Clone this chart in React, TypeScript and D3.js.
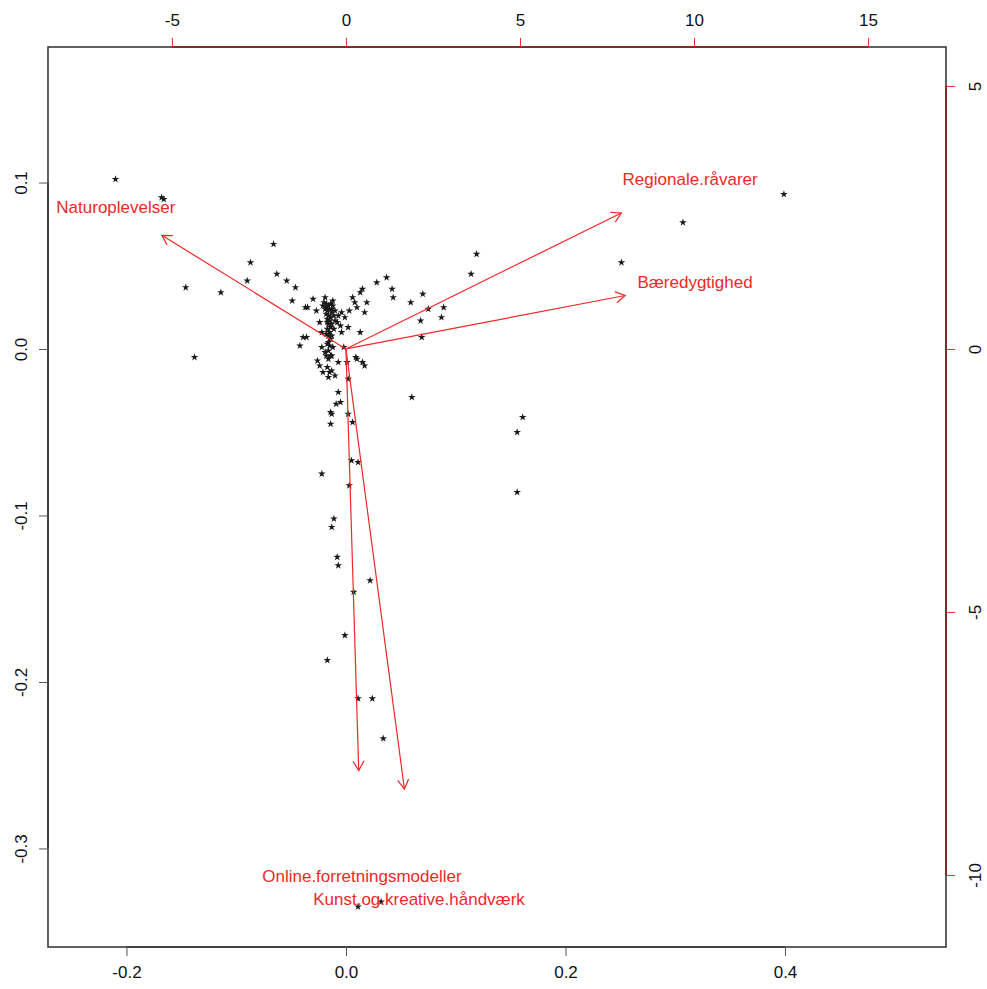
import { useEffect, useRef } from 'react';
import * as d3 from 'd3';

const W = 987;
const H = 989;
const [bl, br, bt, bb] = [48, 946, 47, 947];

// observation scores (PC1, PC2)
const scores: [number, number][] = [
    [-0.21, 0.102], [-0.168, 0.091], [-0.166, 0.09], [-0.066, 0.063], [-0.087, 0.052],
    [-0.09, 0.041], [-0.063, 0.045], [-0.054, 0.041], [-0.146, 0.037], [-0.114, 0.034],
    [-0.138, -0.005], [-0.046, 0.037], [-0.049, 0.029], [0.399, 0.093], [0.307, 0.076],
    [0.251, 0.052], [0.119, 0.057], [0.114, 0.045], [0.161, -0.041], [0.156, -0.05],
    [0.156, -0.086], [0.06, -0.029], [0.037, 0.043], [0.028, 0.04], [0.042, 0.036],
    [0.043, 0.031], [0.07, 0.033], [0.059, 0.028], [0.075, 0.024], [0.089, 0.025],
    [0.087, 0.019], [0.068, 0.017], [0.069, 0.007], [0.011, -0.335], [0.032, -0.332],
    [-0.007, -0.026], [-0.005, -0.032], [-0.009, -0.033], [-0.014, -0.038], [-0.013, -0.039],
    [-0.014, -0.045], [0.002, -0.039], [0.006, -0.044], [0.005, -0.067], [0.011, -0.068],
    [-0.022, -0.075], [0.003, -0.082], [-0.011, -0.102], [-0.013, -0.107], [-0.008, -0.125],
    [-0.007, -0.13], [0.022, -0.139], [0.007, -0.146], [-0.001, -0.172], [-0.017, -0.187],
    [0.011, -0.21], [0.024, -0.21], [0.034, -0.234], [0.001, -0.008], [0.002, -0.018],
    [0.013, 0.034], [0.006, 0.031], [0.008, 0.028], [0.01, 0.025], [0.015, 0.036],
    [0.019, 0.028], [0.017, 0.022], [0.013, 0.01], [0.003, 0.023], [0.009, -0.005],
    [0.01, -0.006], [0.015, -0.008], [0.017, -0.01], [-0.03, 0.03], [-0.035, 0.025],
    [-0.037, 0.025], [-0.027, 0.023], [-0.019, 0.031], [-0.024, 0.016], [-0.022, 0.01],
    [-0.036, 0.007], [-0.039, 0.007], [-0.042, 0.002], [-0.01, 0.023], [-0.007, 0.02],
    [-0.008, 0.016], [-0.005, 0.014], [-0.004, 0.01], [0.002, 0.013], [-0.001, 0.019],
    [-0.004, 0.022], [-0.002, 0.001], [-0.022, 0.001], [-0.019, -0.002], [-0.013, -0.004],
    [-0.024, -0.01], [-0.017, -0.011], [-0.015, -0.014], [-0.01, -0.016], [-0.021, -0.014],
    [-0.007, -0.008], [-0.026, -0.007], [-0.013, -0.013], [-0.016, -0.017],
    [-0.02, 0.028], [-0.018, 0.027], [-0.016, 0.026], [-0.014, 0.027], [-0.012, 0.026],
    [-0.019, 0.024], [-0.017, 0.023], [-0.015, 0.024], [-0.013, 0.022], [-0.018, 0.021],
    [-0.016, 0.02], [-0.014, 0.019], [-0.017, 0.018], [-0.015, 0.017], [-0.016, 0.015],
    [-0.014, 0.013], [-0.017, 0.012], [-0.015, 0.01], [-0.016, 0.008], [-0.014, 0.006],
    [-0.016, 0.004], [-0.015, 0.002], [-0.016, -0.001], [-0.014, -0.004], [-0.016, -0.006],
    [-0.012, 0.029], [-0.021, 0.026], [-0.011, 0.02], [-0.01, 0.017],
    [-0.018, 0.025], [-0.013, 0.024], [-0.017, 0.016], [-0.013, 0.015], [-0.018, 0.009],
    [-0.013, 0.008], [-0.017, 0.003], [-0.012, 0.001], [-0.018, -0.004], [-0.011, 0.012]
];

// variable loadings (labels sit at the loading, arrows go to 0.8 of it)
const varNames = [
    'Naturoplevelser',
    'Regionale.råvarer',
    'Bæredygtighed',
    'Online.forretningsmodeller',
    'Kunst.og.kreative.håndværk'
];
const loadPC1 = [-6.61, 9.89, 10.03, 0.46, 2.1];
const loadPC2 = [2.7, 3.23, 1.27, -10.02, -10.46];

const bottomTicks = [-0.2, 0.0, 0.2, 0.4];
const leftTicks = [0.1, 0.0, -0.1, -0.2, -0.3];
const topTicks = [-5, 0, 5, 10, 15];
const rightTicks = [5, 0, -5, -10];

const red = '#f02828';
const darkRed = '#8a1c1c';
const font = '"Liberation Sans", Arial, sans-serif';

// R prints a plain hyphen for negatives
const fmt1 = (d: d3.NumberValue) => d3.format('.1f')(d).replace('−', '-');
const fmt0 = (d: d3.NumberValue) => d3.format('d')(d).replace('−', '-');

export default function App() {
    const ref = useRef<SVGSVGElement>(null);

    useEffect(() => {
        document.body.style.margin = '0';
        const svg = d3.select(ref.current);
        svg.selectAll('*').remove();

        const x = d3.scaleLinear().domain([-0.2715, 0.5467]).range([bl, br]);
        const y = d3.scaleLinear().domain([0.1814, -0.3592]).range([bt, bb]);
        const x2 = d3.scaleLinear().domain([-8.56, 17.24]).range([bl, br]);
        const y2 = d3.scaleLinear().domain([5.74, -11.37]).range([bt, bb]);

        // points
        const star = d3.symbol(d3.symbolStar, 18);
        svg.append('g')
            .selectAll('path')
            .data(scores)
            .join('path')
            .attr('d', star)
            .attr('transform', (d) => `translate(${x(d[0])},${y(d[1])})`)
            .attr('fill', '#1a1a1a');

        // arrows
        const arrows = svg.append('g').attr('stroke', red).attr('fill', 'none').attr('stroke-width', 1.2);
        const headLen = 11;
        varNames.forEach((_, i) => {
            const x0 = x2(0);
            const y0 = y2(0);
            const x1 = x2(loadPC1[i] * 0.8);
            const y1 = y2(loadPC2[i] * 0.8);
            arrows.append('line').attr('x1', x0).attr('y1', y0).attr('x2', x1).attr('y2', y1);
            const ang = Math.atan2(y1 - y0, x1 - x0);
            const a1 = ang + Math.PI - Math.PI / 6;
            const a2 = ang + Math.PI + Math.PI / 6;
            arrows
                .append('path')
                .attr(
                    'd',
                    `M${x1 + headLen * Math.cos(a1)},${y1 + headLen * Math.sin(a1)}L${x1},${y1}L${x1 + headLen * Math.cos(a2)},${y1 + headLen * Math.sin(a2)}`
                );
        });

        // variable labels
        svg.append('g')
            .selectAll('text')
            .data(varNames)
            .join('text')
            .attr('x', (_, i) => x2(loadPC1[i]))
            .attr('y', (_, i) => y2(loadPC2[i]))
            .attr('dy', '0.35em')
            .attr('text-anchor', 'middle')
            .attr('fill', red)
            .style('font-family', font)
            .style('font-size', '17px')
            .text((d) => d);

        // box
        svg.append('rect')
            .attr('x', bl)
            .attr('y', bt)
            .attr('width', br - bl)
            .attr('height', bb - bt)
            .attr('fill', 'none')
            .attr('stroke', '#3a3a3a')
            .attr('stroke-width', 1.6);

        const styleAxis = (g: d3.Selection<SVGGElement, unknown, null, undefined>, tickColor: string) => {
            g.select('.domain').remove();
            g.selectAll('.tick line').attr('stroke', tickColor).attr('stroke-width', 1);
            g.selectAll('.tick text').attr('fill', '#111').style('font-family', font).style('font-size', '17px');
        };

        // bottom axis
        svg.append('line')
            .attr('x1', x(bottomTicks[0])).attr('x2', x(bottomTicks[bottomTicks.length - 1]))
            .attr('y1', bb).attr('y2', bb).attr('stroke', '#3a3a3a').attr('stroke-width', 1.6);
        svg.append('g')
            .attr('transform', `translate(0,${bb})`)
            .call(d3.axisBottom(x).tickValues(bottomTicks).tickSize(9).tickPadding(10).tickFormat(fmt1))
            .call((g) => styleAxis(g, '#555'));

        // left axis
        svg.append('line')
            .attr('y1', y(leftTicks[0])).attr('y2', y(leftTicks[leftTicks.length - 1]))
            .attr('x1', bl).attr('x2', bl).attr('stroke', '#3a3a3a').attr('stroke-width', 1.6);
        const left = svg.append('g')
            .attr('transform', `translate(${bl},0)`)
            .call(d3.axisLeft(y).tickValues(leftTicks).tickSize(9).tickFormat(fmt1))
            .call((g) => styleAxis(g, '#555'));
        left.selectAll('.tick text')
            .attr('transform', 'rotate(-90)')
            .attr('x', 0)
            .attr('y', -27)
            .attr('dy', '0.35em')
            .attr('text-anchor', 'middle');

        // top axis (loadings)
        svg.append('line')
            .attr('x1', x2(topTicks[0])).attr('x2', x2(topTicks[topTicks.length - 1]))
            .attr('y1', bt).attr('y2', bt).attr('stroke', darkRed).attr('stroke-width', 1.6);
        svg.append('g')
            .attr('transform', `translate(0,${bt})`)
            .call(d3.axisTop(x2).tickValues(topTicks).tickSize(9).tickPadding(12).tickFormat(fmt0))
            .call((g) => styleAxis(g, red));

        // right axis (loadings)
        svg.append('line')
            .attr('y1', y2(rightTicks[0])).attr('y2', y2(rightTicks[rightTicks.length - 1]))
            .attr('x1', br).attr('x2', br).attr('stroke', darkRed).attr('stroke-width', 1.6);
        const right = svg.append('g')
            .attr('transform', `translate(${br},0)`)
            .call(d3.axisRight(y2).tickValues(rightTicks).tickSize(9).tickFormat(fmt0))
            .call((g) => styleAxis(g, red));
        right.selectAll('.tick text')
            .attr('transform', 'rotate(-90)')
            .attr('x', 0)
            .attr('y', 29)
            .attr('dy', '0.35em')
            .attr('text-anchor', 'middle');
    }, []);

    return <svg ref={ref} width={W} height={H} style={{ display: 'block', background: '#fff' }} />;
}
